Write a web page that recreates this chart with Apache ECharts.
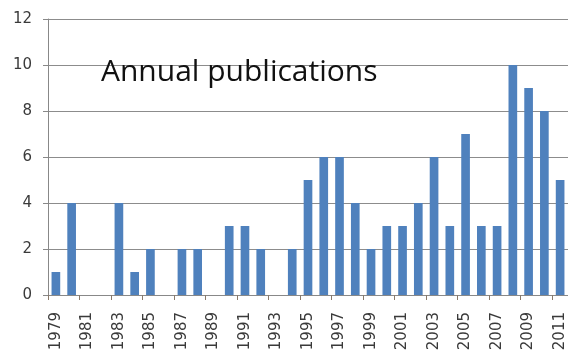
<!DOCTYPE html>
<html>
<head>
<meta charset="utf-8">
<script src="https://cdn.jsdelivr.net/npm/echarts@6/dist/echarts.min.js"></script>
<style>
  html, body { margin: 0; padding: 0; background: #fff; }
  #chart { width: 568px; height: 354px; }
</style>
</head>
<body>
<div id="chart"></div>
<script>
var years = ['1979', '1980', '1981', '1982', '1983', '1984', '1985', '1986', '1987', '1988',
    '1989', '1990', '1991', '1992', '1993', '1994', '1995', '1996', '1997', '1998',
    '1999', '2000', '2001', '2002', '2003', '2004', '2005', '2006', '2007', '2008',
    '2009', '2010', '2011'];
var publications = [1, 4, 0, 0, 4, 1, 2, 0, 2, 2,
    0, 3, 3, 2, 0, 2, 5, 6, 6, 4,
    2, 3, 3, 4, 6, 3, 7, 3, 3, 10,
    9, 8, 5];

var chart = echarts.init(document.getElementById('chart'));

var option = {
    animation: false,
    title: {
        text: 'Annual publications',
        left: 96,
        top: 52,
        textStyle: {
            fontFamily: 'Open Sans',
            fontWeight: 'normal',
            fontSize: 30,
            color: '#111'
        }
    },
    grid: {
        left: 48,
        right: 0,
        top: 19,
        bottom: 59,
        containLabel: false
    },
    xAxis: {
        type: 'category',
        data: years,
        axisLine: { lineStyle: { color: '#888', width: 1 } },
        axisTick: { show: true, alignWithLabel: false, length: 5, lineStyle: { color: '#8a7a6a' } },
        axisLabel: {
            rotate: 90,
            interval: 1,
            margin: 17,
            fontFamily: 'DejaVu Sans',
            fontSize: 15,
            color: '#3a3a3a'
        }
    },
    yAxis: {
        type: 'value',
        min: 0,
        max: 12,
        interval: 2,
        axisLine: { show: true, lineStyle: { color: '#888', width: 1 } },
        axisTick: { show: true, length: 5, lineStyle: { color: '#888' } },
        axisLabel: {
            margin: 16,
            fontFamily: 'DejaVu Sans',
            fontSize: 15,
            color: '#3a3a3a'
        },
        splitLine: { lineStyle: { color: '#8c8c8c', width: 1 } }
    },
    series: [{
        type: 'bar',
        data: publications,
        barWidth: '55%',
        itemStyle: { color: '#4f81bd' }
    }]
};

chart.setOption(option);
</script>
</body>
</html>
